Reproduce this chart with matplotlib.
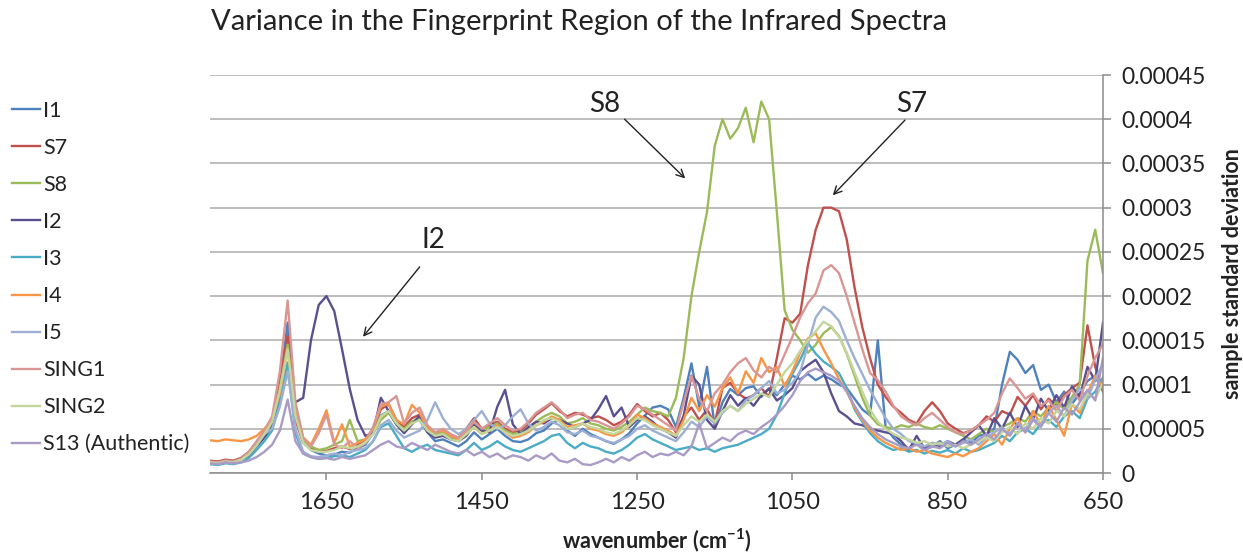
import numpy as np
import matplotlib
matplotlib.use("Agg")
import matplotlib.pyplot as plt
from matplotlib.ticker import FixedLocator, FixedFormatter

plt.rcParams['font.family'] = ['Lato', 'DejaVu Sans']
plt.rcParams['mathtext.default'] = 'regular'

# wavenumber grid (cm^-1), values in units of 1e-5
wavenumber = list(range(1800, 649, -10))
UNIT = 1e-5

I1 = [1.3, 1.2, 1.4, 1.3, 1.6, 2.2, 3.2, 4.5, 5.8, 10,
      17, 7, 3.5, 2.6, 2.2, 2.0, 2.1, 2.4, 2.3, 2.8,
      3.2, 4.5, 6.5, 7.0, 5.5, 4.6, 5.8, 6.0, 4.6, 3.6,
      3.8, 3.4, 3.0, 3.6, 4.6, 3.8, 4.4, 5.0, 4.2, 3.6,
      3.5, 3.8, 4.5, 4.8, 5.6, 6.0, 4.8, 4.2, 5.0, 4.4,
      4.0, 3.6, 3.3, 3.8, 4.5, 5.6, 6.5, 7.4, 7.6, 7.2,
      5.2, 8.5, 12.4, 7.5, 12, 5.2, 8, 9.5, 8.8, 9.6,
      9.8, 8.6, 9.6, 8.8, 10, 11, 10.6, 11.2, 10.5, 11,
      10.6, 10, 9.6, 8.4, 7.2, 6.5, 15, 5.2, 4.0, 3.2,
      2.8, 3.4, 2.6, 3.0, 3.6, 2.8, 3.2, 3.8, 3.4, 4.2,
      4.4, 5.0, 10, 13.7, 12.8, 11.3, 12.2, 9.4, 10.0, 8.0,
      9.2, 7.8, 9.0, 10.4, 11, 9.2]

S7 = [1.4, 1.3, 1.5, 1.4, 1.7, 2.4, 3.4, 4.6, 6.0, 10.5,
      15.5, 6.0, 3.4, 2.8, 2.6, 2.5, 2.8, 3.0, 2.7, 3.2,
      3.8, 5.0, 7.2, 7.8, 6.0, 5.2, 6.2, 6.6, 5.2, 4.4,
      4.6, 4.2, 4.0, 5.0, 6.2, 5.0, 5.4, 5.8, 5.0, 4.6,
      4.8, 5.6, 6.6, 7.2, 7.9, 7.0, 6.4, 6.8, 6.6, 6.2,
      6.4, 6.0, 5.4, 5.8, 6.6, 7.8, 7.0, 6.4, 6.8, 6.0,
      4.6, 6.4, 7.4, 6.0, 7.2, 5.6, 9.6, 10.2, 9.0, 8.4,
      8.8, 9.6, 8.6, 13, 17.5, 17, 18, 23.5, 27.5, 30,
      30, 29.6, 26.4, 21, 16.5, 13, 10, 8.6, 7.5, 6.8,
      6.0, 5.6, 7.0, 8.0, 7.0, 5.6, 5.0, 4.5, 4.8, 5.4,
      6.4, 5.8, 7.0, 6.6, 8.6, 7.6, 8.8, 7.2, 8.4, 7.6,
      8.8, 9.6, 10.2, 16.7, 12, 9.4]

S8 = [1.2, 1.1, 1.3, 1.2, 1.5, 2.0, 3.0, 4.2, 5.4, 9.5,
      14.5, 7.0, 3.6, 3.0, 2.6, 2.8, 3.2, 3.6, 6.0, 3.6,
      3.8, 4.4, 6.0, 6.8, 5.6, 5.0, 5.8, 6.2, 5.0, 4.4,
      4.6, 4.0, 3.8, 4.6, 5.6, 4.8, 5.2, 5.6, 4.8, 4.4,
      4.6, 5.0, 5.8, 6.4, 6.8, 6.4, 5.6, 5.8, 6.2, 5.6,
      5.4, 5.0, 4.8, 5.2, 5.8, 6.6, 7.4, 7.0, 6.8, 6.4,
      8.5, 13, 20, 25, 29.5, 37, 40, 37.8, 39, 41.3,
      37.4, 42, 40, 29.5, 18.4, 16.2, 15, 13.6, 14.5, 15.8,
      16.5, 15.5, 13.5, 11, 8.5, 6.5, 5.5, 5.2, 5.0, 5.4,
      5.2, 5.6, 5.2, 5.0, 5.4, 5.0, 4.6, 4.2, 3.8, 4.4,
      5.0, 4.6, 5.2, 5.6, 6.2, 5.8, 7.0, 6.4, 7.4, 8.0,
      7.2, 8.6, 10, 24, 27.5, 22.6]

I2 = [1.2, 1.1, 1.3, 1.2, 1.4, 2.0, 3.0, 4.0, 5.2, 8.5,
      12, 8, 8.5, 15, 19, 20, 18.3, 14, 9.5, 6,
      4.2, 4.5, 8.5, 7.0, 5.5, 4.5, 5.5, 6.5, 4.6, 4.0,
      4.2, 3.8, 3.6, 4.2, 5.4, 4.8, 4.6, 7.5, 9.4, 5.5,
      4.4, 5.2, 5.8, 5.6, 6.2, 6.0, 5.6, 5.2, 5.6, 6.0,
      7.2, 8.7, 6.4, 7.4, 5.2, 6.0, 6.4, 5.8, 5.0, 4.6,
      4.0, 6.5, 11.0, 10, 6.0, 5.0, 7.0, 8.8, 7.6, 8.5,
      7.6, 8.8, 9.5, 8.2, 8.8, 9.6, 11.5, 12.2, 12.8, 11.4,
      9.0, 7.0, 6.4, 5.6, 5.4, 5.0, 4.8, 4.6, 4.4, 3.6,
      2.6, 4.2, 2.8, 3.4, 3.0, 3.6, 3.2, 3.8, 4.6, 5.4,
      4.2, 6.2, 5.0, 6.8, 5.2, 7.6, 6.0, 8.4, 7.0, 8.8,
      7.4, 9.8, 8.6, 12, 10.4, 17]

I3 = [1.0, 0.9, 1.1, 1.0, 1.2, 1.7, 2.6, 3.6, 4.8, 8.0,
      12.5, 4.5, 2.2, 1.8, 1.6, 1.7, 1.9, 2.0, 1.8, 2.2,
      2.6, 3.6, 5.2, 5.6, 4.2, 2.8, 2.4, 2.9, 3.2, 2.6,
      2.4, 2.2, 2.0, 2.6, 3.4, 2.6, 3.0, 3.6, 3.0, 2.6,
      2.4, 2.8, 3.2, 3.6, 4.2, 4.4, 3.4, 2.8, 3.4, 3.0,
      2.8, 2.4, 2.2, 2.6, 3.2, 4.0, 4.4, 3.8, 3.4, 3.0,
      2.6, 2.8, 3.0, 2.6, 2.8, 2.4, 2.8, 3.0, 3.2, 3.6,
      4.0, 4.4, 5.0, 6.6, 9.0, 11.2, 12.8, 14.7, 13.5, 12.6,
      12, 11.3, 9.6, 7.2, 5.8, 4.5, 3.6, 3.0, 2.6, 2.8,
      2.4, 2.6, 2.2, 2.5, 2.3, 2.6, 2.2, 2.8, 2.4, 2.6,
      3.0, 3.4, 4.2, 3.6, 4.6, 5.0, 4.4, 5.6, 6.0, 5.2,
      6.4, 7.0, 6.2, 8.4, 9.2, 10.8]

I4 = [3.7, 3.6, 3.8, 3.7, 3.6, 3.8, 4.2, 5.0, 6.0, 9.0,
      14, 7.5, 4.0, 3.2, 5.0, 7.1, 3.4, 5.5, 3.0, 3.4,
      3.8, 5.0, 7.5, 7.8, 6.0, 5.5, 7.7, 6.8, 5.0, 4.6,
      4.8, 4.2, 3.8, 4.4, 5.2, 4.4, 4.8, 5.4, 4.6, 4.0,
      4.2, 4.6, 5.4, 5.8, 6.4, 6.0, 5.2, 5.4, 5.6, 5.0,
      4.8, 4.4, 4.2, 4.6, 5.4, 6.6, 6.2, 5.6, 5.2, 4.8,
      4.2, 6.0, 8.5, 7.0, 8.8, 7.5, 9.6, 10.8, 9.0, 11.5,
      10.2, 13.0, 11.4, 12.0, 9.8, 11.5, 13.6, 15.2, 15.8, 14.0,
      12.4, 10.6, 9.2, 7.4, 6.0, 4.8, 4.0, 3.4, 3.0, 2.6,
      2.8, 2.4, 2.6, 2.2, 2.0, 1.8, 2.2, 1.9, 2.4, 2.8,
      3.6, 4.4, 3.2, 5.0, 6.2, 4.6, 7.0, 5.4, 7.6, 6.0,
      4.2, 7.8, 6.8, 9.0, 11.0, 9.6]

I5 = [1.1, 1.0, 1.2, 1.1, 1.4, 2.2, 3.4, 4.4, 5.0, 7.5,
      11.5, 5.0, 2.4, 1.9, 1.8, 2.0, 2.2, 2.0, 2.4, 2.6,
      2.8, 3.6, 5.4, 6.0, 4.8, 4.0, 4.4, 4.8, 6.0, 8.0,
      6.2, 5.0, 4.4, 5.0, 6.0, 7.0, 5.6, 5.0, 5.4, 6.4,
      7.2, 5.6, 4.8, 5.2, 5.8, 5.4, 4.6, 4.4, 4.8, 4.2,
      4.0, 3.6, 3.4, 3.8, 4.2, 5.0, 5.4, 4.8, 4.4, 4.0,
      3.6, 4.6, 5.8, 5.2, 6.4, 5.6, 6.8, 7.6, 7.0, 8.2,
      8.8, 9.6, 10.4, 9.0, 9.4, 10.2, 11.4, 14.5, 17.6, 18.8,
      18.2, 17.2, 15.0, 13.0, 11.2, 9.4, 7.8, 6.2, 5.0, 4.4,
      3.6, 3.4, 3.0, 3.4, 3.2, 3.6, 3.0, 3.4, 3.8, 3.2,
      4.0, 4.6, 5.2, 4.4, 5.6, 5.0, 6.2, 5.4, 6.8, 7.6,
      6.4, 8.2, 9.6, 8.4, 10.6, 12.4]

SING1 = [1.3, 1.2, 1.4, 1.3, 1.6, 2.4, 3.6, 4.8, 6.4, 11.5,
         19.5, 8.0, 4.0, 3.0, 4.5, 6.6, 3.2, 2.8, 3.6, 2.8,
         3.4, 5.2, 7.8, 8.0, 8.7, 5.6, 6.8, 7.4, 5.4, 4.6,
         5.0, 4.4, 4.0, 4.8, 5.8, 5.0, 5.6, 6.2, 5.4, 4.8,
         5.0, 5.8, 6.8, 7.4, 8.0, 7.2, 6.2, 6.6, 6.8, 6.0,
         5.8, 5.4, 5.0, 5.6, 6.4, 7.6, 7.2, 6.6, 6.0, 5.4,
         4.8, 8.0, 11.0, 8.4, 7.0, 9.0, 10.0, 11.4, 12.4, 13.0,
         11.6, 10.8, 12.0, 11.4, 13.4, 15.4, 17.6, 19.2, 20.3, 22.9,
         23.5, 22.6, 20.0, 17.0, 14.0, 11.3, 10.5, 9.2, 7.6, 6.4,
         5.8, 5.4, 6.2, 6.8, 6.0, 5.2, 4.6, 4.4, 4.8, 5.4,
         6.0, 6.8, 9.0, 10.7, 9.6, 8.4, 9.0, 7.6, 8.2, 7.0,
         8.6, 9.4, 8.2, 11.0, 13.0, 14.6]

SING2 = [1.2, 1.1, 1.3, 1.2, 1.5, 2.1, 3.1, 4.4, 5.8, 9.4,
         14.0, 6.5, 3.4, 2.6, 2.4, 2.4, 2.6, 3.0, 2.8, 3.0,
         3.4, 4.4, 6.4, 7.0, 5.6, 4.8, 5.6, 6.0, 4.8, 4.2,
         4.4, 3.8, 3.6, 4.4, 5.2, 4.4, 4.8, 5.2, 4.6, 4.2,
         4.4, 4.8, 5.4, 6.0, 6.2, 5.8, 5.0, 5.2, 5.6, 5.2,
         5.0, 4.6, 4.4, 4.8, 5.4, 6.2, 6.0, 5.4, 5.0, 4.6,
         4.2, 5.4, 6.4, 5.8, 6.6, 5.8, 7.0, 7.6, 7.0, 7.8,
         8.4, 9.0, 8.6, 10.0, 11.4, 12.4, 13.8, 15.0, 16.0, 17.1,
         16.6, 15.4, 13.6, 11.4, 9.2, 7.2, 5.8, 5.0, 4.4, 4.0,
         3.8, 3.4, 3.6, 3.2, 3.4, 3.0, 3.2, 2.8, 3.2, 3.6,
         4.0, 3.6, 4.6, 5.2, 4.4, 5.6, 5.0, 6.2, 5.6, 7.0,
         6.4, 7.8, 7.2, 9.0, 8.4, 10.2]

S13 = [1.1, 1.0, 1.2, 1.1, 1.2, 1.4, 1.8, 2.4, 3.2, 4.8,
       8.3, 3.6, 2.2, 1.8, 1.6, 1.7, 1.5, 1.8, 1.6, 1.8,
       2.0, 2.6, 3.2, 3.6, 3.0, 2.8, 3.4, 3.0, 2.6, 3.2,
       2.8, 2.4, 2.2, 2.6, 2.0, 2.4, 1.8, 2.2, 1.6, 2.0,
       1.8, 1.4, 2.0, 1.6, 2.2, 1.4, 1.2, 1.6, 1.0, 0.9,
       1.2, 1.6, 1.2, 1.8, 1.4, 2.0, 2.4, 1.8, 2.2, 2.0,
       2.4, 2.0, 3.0, 5.6, 2.8, 3.4, 4.0, 3.6, 4.4, 4.8,
       4.4, 5.2, 5.8, 6.6, 7.6, 8.8, 10.4, 11.4, 11.8, 11.4,
       11.0, 10.4, 9.2, 7.6, 6.2, 5.2, 4.4, 3.8, 3.4, 3.0,
       2.8, 3.2, 2.6, 3.0, 2.8, 3.4, 3.0, 3.6, 3.2, 3.8,
       4.4, 3.8, 5.0, 4.2, 5.6, 4.6, 6.0, 5.2, 6.8, 5.8,
       7.4, 6.6, 8.0, 9.4, 8.2, 13.0]

series_names = ["I1", "S7", "S8", "I2", "I3", "I4", "I5", "SING1", "SING2", "S13 (Authentic)"]
series_values = [I1, S7, S8, I2, I3, I4, I5, SING1, SING2, S13]
series_colors = ["#4F81BD", "#C0504D", "#9BBB59", "#5B4F8E", "#4BACC6",
                 "#F79646", "#9DAFD3", "#D99694", "#C3D69B", "#A99BC5"]

y_ticks = [0, 0.00005, 0.0001, 0.00015, 0.0002, 0.00025, 0.0003, 0.00035, 0.0004, 0.00045]
y_tick_labels = ["0", "0.00005", "0.0001", "0.00015", "0.0002", "0.00025",
                 "0.0003", "0.00035", "0.0004", "0.00045"]
x_ticks = [1650, 1450, 1250, 1050, 850, 650]

W, H = 1243, 556
fig = plt.figure(figsize=(W / 100, H / 100), dpi=100)
ax = fig.add_axes([210 / W, 1 - 473 / H, (1103 - 210) / W, (473 - 75) / H])

x = np.array(wavenumber)
handles = []
for name, vals, col in zip(series_names, series_values, series_colors):
    h, = ax.plot(x, np.array(vals) * UNIT, color=col, lw=1.7, label=name)
    handles.append(h)

ax.set_xlim(1800, 650)
ax.set_ylim(0, 0.00045)

grid_col = "#ABABAB"
axis_col = "#8C8C8C"
ax.yaxis.set_major_locator(FixedLocator(y_ticks))
ax.yaxis.set_major_formatter(FixedFormatter(y_tick_labels))
ax.set_xticks(x_ticks)
ax.set_xticklabels([str(t) for t in x_ticks])
ax.yaxis.tick_right()
ax.grid(axis='y', color=grid_col, lw=1.1)
ax.set_axisbelow(True)
for s in ["left", "top"]:
    ax.spines[s].set_visible(False)
for s in ["right", "bottom"]:
    ax.spines[s].set_color(axis_col)
    ax.spines[s].set_linewidth(1.1)
ax.tick_params(axis='y', which='both', right=True, left=False, direction='out',
               length=5.5, width=1.1, color=axis_col, labelsize=16.5, pad=8,
               labelcolor="#222222")
ax.tick_params(axis='x', direction='out', length=5, width=1.1, color=axis_col,
               labelsize=17, pad=9, labelcolor="#222222")

ax.set_xlabel("wavenumber (cm$^{-1}$)", fontsize=15.5, fontweight='bold',
              color="#222222", labelpad=9)
ax.yaxis.set_label_position('right')
ax.set_ylabel("sample standard deviation", fontsize=15.5, fontweight='bold',
              color="#222222", rotation=90)
ax.yaxis.set_label_coords(1.133, 0.5)

fig.text(579 / W, 1 - 22 / H, "Variance in the Fingerprint Region of the Infrared Spectra",
         ha='center', va='center', fontsize=21, color="#222222")

# annotations
arrow_kw = dict(arrowstyle='->', lw=1.0, color='#222222', mutation_scale=14,
                shrinkA=0, shrinkB=0)
ax.text(1292, 0.000417, "S8", fontsize=20, ha='center', va='center', color="#222222")
ax.annotate("", xy=(1188, 0.000333), xytext=(1266, 0.0004), arrowprops=arrow_kw)
ax.text(896, 0.000417, "S7", fontsize=20, ha='center', va='center', color="#222222")
ax.annotate("", xy=(998, 0.000314), xytext=(905, 0.000399), arrowprops=arrow_kw)
ax.text(1512, 0.000264, "I2", fontsize=20, ha='center', va='center', color="#222222")
ax.annotate("", xy=(1603, 0.000154), xytext=(1530, 0.000233), arrowprops=arrow_kw)

fig.legend(handles=handles, labels=series_names, loc='upper left',
           bbox_to_anchor=(12 / W, 1 - 101 / H), frameon=False, fontsize=15.5,
           handlelength=1.3, handletextpad=0.15, labelspacing=0.79,
           borderpad=0, borderaxespad=0, labelcolor="#222222")

fig.savefig("out.png", dpi=100, facecolor="white")
